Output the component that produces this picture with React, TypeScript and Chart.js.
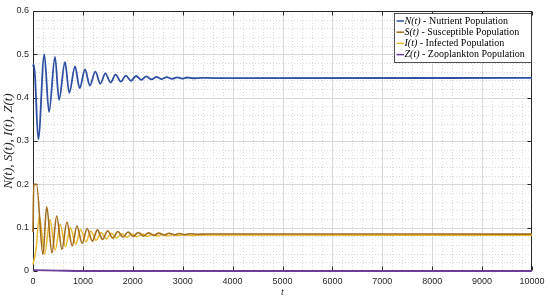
import { useEffect, useRef } from 'react';
import { Chart, registerables } from 'chart.js';

Chart.register(...registerables);

// ---- data ----
const N_T = [0, 15, 40, 106, 226, 321, 441, 521, 641, 727, 842, 935, 1042, 1140, 1250, 1350, 1450, 1555, 1655, 1760, 1860, 1965, 2065, 2170, 2270, 2375, 2475, 2580, 2680, 2785, 2885, 2990, 3090, 3200, 3400, 3600, 10000];
const N_VALUES = [0.472, 0.477, 0.45, 0.304, 0.5, 0.367, 0.494, 0.395, 0.482, 0.411, 0.472, 0.422, 0.465, 0.428, 0.46, 0.432, 0.456, 0.435, 0.453, 0.437, 0.451, 0.439, 0.45, 0.441, 0.449, 0.442, 0.448, 0.443, 0.4475, 0.4435, 0.447, 0.444, 0.4465, 0.4448, 0.4458, 0.4452, 0.4455];

const S_T = [0, 15, 70, 200, 274, 380, 474, 580, 680, 785, 880, 985, 1085, 1190, 1290, 1395, 1495, 1600, 1700, 1805, 1905, 2010, 2110, 2215, 2315, 2420, 2520, 2625, 2725, 2830, 2930, 3035, 3140, 3300, 3500, 10000];
const S_VALUES = [0.09, 0.2, 0.2, 0.038, 0.148, 0.042, 0.127, 0.05, 0.113, 0.058, 0.104, 0.064, 0.098, 0.069, 0.095, 0.073, 0.093, 0.076, 0.091, 0.078, 0.09, 0.08, 0.089, 0.081, 0.088, 0.082, 0.0875, 0.083, 0.087, 0.0835, 0.0865, 0.084, 0.086, 0.0848, 0.0855, 0.0852];

const I_T = [0, 60, 127, 235, 340, 445, 545, 650, 750, 855, 955, 1060, 1160, 1265, 1365, 1470, 1570, 1675, 1775, 1880, 1980, 2085, 2185, 2290, 2390, 2495, 2595, 2700, 2800, 2905, 3005, 3200, 3400, 10000];
const I_VALUES = [0.015, 0.05, 0.125, 0.04, 0.118, 0.048, 0.108, 0.056, 0.1, 0.062, 0.095, 0.067, 0.092, 0.071, 0.089, 0.074, 0.087, 0.076, 0.086, 0.078, 0.0855, 0.079, 0.085, 0.08, 0.0845, 0.0805, 0.084, 0.081, 0.0835, 0.0815, 0.083, 0.082, 0.0828, 0.0825];

const Z_T = [0, 500, 1000, 10000];
const Z_VALUES = [0.002, 0.001, 0.0, 0.0];

const SERIES_SYMBOLS = ['N(t)', 'S(t)', 'I(t)', 'Z(t)'];
const SERIES_NAMES = ['Nutrient Population', 'Susceptible Population', 'Infected Population', 'Zooplankton Population'];
const SERIES_COLORS = ['#2f4fa2', '#a26c1c', '#e8b92c', '#6a3d9a'];

const X_MAX = 10000;
const X_STEP = 1000;
const X_MINOR = 200;
const Y_MAX = 0.6;
const Y_STEP = 0.1;
const Y_MINOR = 0.02;
const X_TITLE = 't';
const Y_TITLE = 'N(t), S(t), I(t), Z(t)';

const toPoints = (t: number[], v: number[]) => t.map((x, i) => ({ x, y: v[i] }));

const AXIS_COLOR = '#262626';

const framePlugin = {
  id: 'frame',
  beforeDatasetsDraw(chart: any) {
    const { ctx, chartArea: a, scales } = chart;
    const xs = scales.x;
    const ys = scales.y;
    ctx.save();
    ctx.lineWidth = 1;
    // minor grid
    ctx.setLineDash([1, 2]);
    ctx.strokeStyle = '#dadada';
    const nx = Math.round(X_MAX / X_MINOR);
    for (let k = 1; k < nx; k++) {
      if (k % Math.round(X_STEP / X_MINOR) === 0) continue;
      const px = Math.round(xs.getPixelForValue(k * X_MINOR)) + 0.5;
      ctx.beginPath(); ctx.moveTo(px, a.top); ctx.lineTo(px, a.bottom); ctx.stroke();
    }
    const ny = Math.round(Y_MAX / Y_MINOR);
    for (let k = 1; k < ny; k++) {
      if (k % Math.round(Y_STEP / Y_MINOR) === 0) continue;
      const py = Math.round(ys.getPixelForValue(k * Y_MINOR)) + 0.5;
      ctx.beginPath(); ctx.moveTo(a.left, py); ctx.lineTo(a.right, py); ctx.stroke();
    }
    // major grid
    ctx.setLineDash([]);
    ctx.strokeStyle = '#d8d8d8';
    for (let v = X_STEP; v < X_MAX; v += X_STEP) {
      const px = Math.round(xs.getPixelForValue(v)) + 0.5;
      ctx.beginPath(); ctx.moveTo(px, a.top); ctx.lineTo(px, a.bottom); ctx.stroke();
    }
    for (let k = 1; k < Math.round(Y_MAX / Y_STEP); k++) {
      const py = Math.round(ys.getPixelForValue(k * Y_STEP)) + 0.5;
      ctx.beginPath(); ctx.moveTo(a.left, py); ctx.lineTo(a.right, py); ctx.stroke();
    }
    // box
    ctx.strokeStyle = AXIS_COLOR;
    const l = Math.round(a.left) + 0.5, r = Math.round(a.right) - 0.5;
    const t = Math.round(a.top) + 0.5, b = Math.round(a.bottom) - 0.5;
    ctx.strokeRect(l, t, r - l, b - t);
    // inward tick marks
    const tl = 4;
    for (let v = 0; v <= X_MAX; v += X_STEP) {
      const px = Math.round(xs.getPixelForValue(v)) + 0.5;
      ctx.beginPath();
      ctx.moveTo(px, b); ctx.lineTo(px, b - tl);
      ctx.moveTo(px, t); ctx.lineTo(px, t + tl);
      ctx.stroke();
    }
    for (let k = 0; k <= Math.round(Y_MAX / Y_STEP); k++) {
      const py = Math.round(ys.getPixelForValue(k * Y_STEP)) + 0.5;
      ctx.beginPath();
      ctx.moveTo(l, py); ctx.lineTo(l + tl, py);
      ctx.moveTo(r, py); ctx.lineTo(r - tl, py);
      ctx.stroke();
    }
    ctx.restore();
  },
  afterDraw(chart: any) {
    const { ctx, chartArea: a } = chart;
    const w = 137, h = 49;
    const right = Math.round(a.right) - 0.5;
    const left = right - w;
    const top = Math.round(a.top) + 2.5;
    ctx.save();
    ctx.fillStyle = '#ffffff';
    ctx.fillRect(left, top, w, h);
    ctx.strokeStyle = AXIS_COLOR;
    ctx.lineWidth = 0.8;
    ctx.strokeRect(left, top, w, h);
    ctx.textBaseline = 'middle';
    ctx.fillStyle = '#000000';
    for (let i = 0; i < SERIES_SYMBOLS.length; i++) {
      const yy = top + 7.5 + i * 11.2;
      ctx.strokeStyle = SERIES_COLORS[i];
      ctx.lineWidth = 1.5;
      ctx.beginPath(); ctx.moveTo(left + 2, yy); ctx.lineTo(left + 9.5, yy); ctx.stroke();
      ctx.font = 'italic 10px "Liberation Serif", serif';
      ctx.fillText(SERIES_SYMBOLS[i], left + 10, yy);
      const sw = ctx.measureText(SERIES_SYMBOLS[i]).width;
      ctx.font = '10px "Liberation Serif", serif';
      ctx.fillText(' - ' + SERIES_NAMES[i], left + 10 + sw, yy);
    }
    ctx.restore();
  },
};

export default function App() {
  const ref = useRef<HTMLCanvasElement | null>(null);
  useEffect(() => {
    if (!ref.current) return;
    const seriesT = [N_T, S_T, I_T, Z_T];
    const seriesV = [N_VALUES, S_VALUES, I_VALUES, Z_VALUES];
    const widths = [1.8, 1.6, 1.5, 1.8];
    const datasets = SERIES_SYMBOLS.map((s, i) => ({
      label: s + ' - ' + SERIES_NAMES[i],
      data: toPoints(seriesT[i], seriesV[i]),
      borderColor: SERIES_COLORS[i],
      backgroundColor: SERIES_COLORS[i],
      borderWidth: widths[i],
      pointRadius: 0,
      cubicInterpolationMode: 'monotone' as const,
      fill: false,
      clip: 2,
    }));
    const chart = new Chart(ref.current, {
      type: 'line',
      data: { datasets },
      options: {
        animation: false,
        responsive: false,
        maintainAspectRatio: false,
        layout: { padding: { top: 11, right: 18, left: 0, bottom: 0 } },
        plugins: { legend: { display: false }, tooltip: { enabled: false } },
        scales: {
          x: {
            type: 'linear',
            min: 0,
            max: X_MAX,
            grid: { display: false, drawTicks: false },
            border: { display: false },
            ticks: {
              stepSize: X_STEP,
              padding: 5,
              color: AXIS_COLOR,
              font: { family: '"Liberation Sans", Arial, sans-serif', size: 9 },
              callback: (v: any) => String(v),
              maxRotation: 0,
            },
            title: {
              display: true,
              text: X_TITLE,
              color: AXIS_COLOR,
              padding: { top: 0, bottom: 0 },
              font: { family: '"Liberation Serif", serif', size: 10, style: 'italic' },
            },
            afterFit: (s: any) => { s.height = 27; },
          },
          y: {
            type: 'linear',
            min: 0,
            max: Y_MAX,
            grid: { display: false, drawTicks: false },
            border: { display: false },
            ticks: {
              stepSize: Y_STEP,
              padding: 4,
              color: AXIS_COLOR,
              font: { family: '"Liberation Sans", Arial, sans-serif', size: 9 },
              callback: (v: any) => (Math.abs(v) < 1e-9 ? '0' : Number(v).toFixed(1)),
            },
            title: {
              display: true,
              text: Y_TITLE,
              color: AXIS_COLOR,
              padding: { top: 1, bottom: 0 },
              font: { family: '"Liberation Serif", serif', size: 13, style: 'italic' },
            },
            afterFit: (s: any) => { s.width = 33; },
          },
        },
      },
      plugins: [framePlugin],
    });
    return () => chart.destroy();
  }, []);
  return (
    <div style={{ position: 'absolute', left: 0, top: 0, width: 550, height: 298, background: '#fff' }}>
      <canvas ref={ref} width={550} height={298} style={{ display: 'block' }} />
    </div>
  );
}
